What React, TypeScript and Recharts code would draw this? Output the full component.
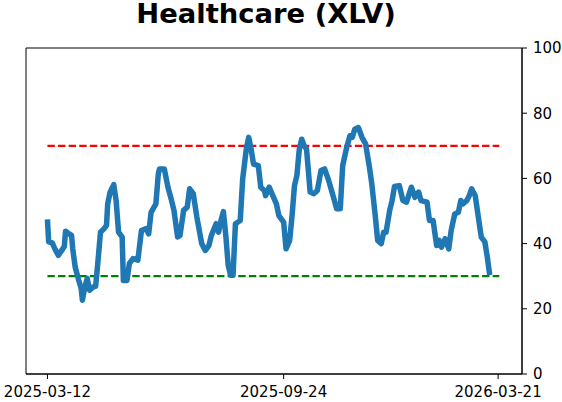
import React from "react";
import { LineChart, Line, XAxis, YAxis, ReferenceArea } from "recharts";

// days since 2025-03-12
const days: number[] = [
  0, 1, 4, 6, 9, 12, 14, 15, 17, 20, 21, 23, 26, 28, 29, 31, 33, 35, 38, 40,
  42, 44, 47, 49, 50, 52, 55, 57, 59, 62, 63, 66, 68, 71, 75, 78, 82, 84, 86, 90,
  92, 93, 97, 100, 103, 105, 108, 110, 113, 116, 118, 121, 124, 128, 131, 134, 136, 140, 142, 144,
  146, 148, 150, 152, 154, 156, 160, 162, 165, 167, 169, 171, 175, 177, 180, 181, 184, 187, 190, 192,
  196, 198, 201, 203, 205, 207, 209, 211, 213, 215, 218, 221, 224, 227, 230, 233, 237, 240, 243, 245,
  248, 251, 253, 255, 258, 261, 264, 267, 269, 272, 274, 277, 279, 281, 284, 286, 288, 292, 295, 298,
  302, 305, 308, 310, 315, 317, 320, 323, 325, 327, 330, 333, 335, 338, 341, 343, 345, 348, 350, 352,
  355, 357, 360, 363, 365, 367,
];

const values: number[] = [
  47.4, 40.5, 40.2, 38.5, 36.4, 38, 39.1, 43.8, 43.2, 42.5, 38.4, 32.8, 28.7, 26.2, 22.6, 26.7, 29.3, 25.7, 26.7, 26.9,
  34.9, 43.5, 44.6, 45.6, 52.2, 55.8, 58.1, 53.2, 43.5, 42, 28.7, 28.7, 33.9, 35.4, 34.9, 44, 44.6, 43, 49.6, 52.2,
  61.4, 62.9, 62.9, 57.3, 53.2, 50.2, 42, 42.5, 50.2, 51.2, 56.8, 55.3, 48.1, 40, 37.9, 39.4, 42.5, 46.1, 43.5, 47.1,
  49.8, 42.5, 33.3, 30.3, 30.3, 46.1, 47.1, 59.8, 69, 72.6, 69, 64.4, 63.9, 57.3, 56.3, 54.7, 57.3, 54.7, 52.2, 48.6,
  46.6, 38.4, 41, 48.6, 57.8, 60.9, 69, 72, 70, 69, 55.8, 55.3, 56.3, 62.4, 62.9, 59.8, 54.7, 50.7, 50.7, 63.9,
  69, 73.1, 72.6, 75.1, 75.6, 72.6, 70.6, 63.9, 58.8, 48.6, 41, 40, 43.5, 43.5, 50.2, 53.2, 57.5, 57.8, 53.2, 52.7,
  57.3, 54.2, 55.8, 53.2, 52.7, 47.1, 47.1, 39.4, 41, 38.9, 41.5, 38.4, 44, 49.1, 49.6, 53.2, 52.2, 53.2, 54.7, 56.8,
  54.7, 49.6, 42, 40.5, 35.9, 30.3,
];

const tickDays: number[] = [0, 196, 374];
const tickLabels: string[] = ["2025-03-12", "2025-09-24", "2026-03-21"];
const yTicks: number[] = [0, 20, 40, 60, 80, 100];
const upperLevel = 70;
const lowerLevel = 30;
const bandDays: number[] = [0, 375];
const title = "Healthcare (XLV)";

const X_MIN = -17.8;
const X_MAX = 393.8;

const data = days.map((d, i) => ({ d, v: values[i] }));
const redData = bandDays.map((d) => ({ d, v: upperLevel }));
const greenData = bandDays.map((d) => ({ d, v: lowerLevel }));

const FONT = "DejaVu Sans";
const tickStyle = { fontFamily: FONT, fontSize: 15, fill: "#000" };

export default function App() {
  return (
    <div style={{ position: "absolute", left: 0, top: 0, width: 562, height: 402, background: "#fff" }}>
      <LineChart
        width={562}
        height={402}
        data={data}
        margin={{ top: 48, right: 0, bottom: 0, left: 26 }}
      >
        <XAxis
          dataKey="d"
          type="number"
          domain={[X_MIN, X_MAX]}
          allowDataOverflow
          ticks={tickDays}
          tickFormatter={(v: number) => tickLabels[tickDays.indexOf(v)] ?? ""}
          height={28}
          tick={tickStyle}
          tickSize={5}
          tickMargin={7}
          stroke="#000"
          interval={0}
        />
        <YAxis
          orientation="right"
          type="number"
          domain={[0, 100]}
          ticks={yTicks}
          width={40}
          tick={{ ...tickStyle, textAnchor: "start" }}
          tickSize={5}
          tickMargin={6}
          stroke="#000"
          interval={0}
        />
        <ReferenceArea
          x1={X_MIN}
          x2={X_MAX}
          y1={0}
          y2={100}
          fill="none"
          stroke="#000"
          strokeWidth={1}
          ifOverflow="visible"
        />
        <Line
          data={redData}
          dataKey="v"
          stroke="#ff0000"
          strokeWidth={2.2}
          strokeDasharray="7.4 3.2"
          dot={false}
          activeDot={false}
          isAnimationActive={false}
        />
        <Line
          data={greenData}
          dataKey="v"
          stroke="#008000"
          strokeWidth={2.2}
          strokeDasharray="7.4 3.2"
          dot={false}
          activeDot={false}
          isAnimationActive={false}
        />
        <Line
          dataKey="v"
          stroke="#1f77b4"
          strokeWidth={5.5}
          strokeLinejoin="round"
          dot={false}
          activeDot={false}
          isAnimationActive={false}
        />
      </LineChart>
      <svg
        width={562}
        height={402}
        style={{ position: "absolute", left: 0, top: 0, pointerEvents: "none" }}
      >
        <text
          x={266}
          y={22.5}
          textAnchor="middle"
          fontFamily={FONT}
          fontWeight="bold"
          fontSize={27.4}
          fill="#000"
        >
          {title}
        </text>
      </svg>
    </div>
  );
}
